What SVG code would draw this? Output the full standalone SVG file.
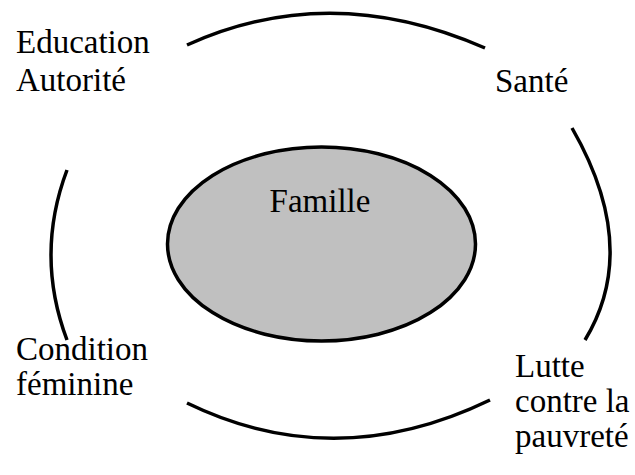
<svg xmlns="http://www.w3.org/2000/svg" width="635" height="475" viewBox="0 0 635 475">
<style>
.arc{fill:none;stroke:#000;stroke-width:3.5}
text{font-family:'Liberation Serif','DejaVu Serif','Times New Roman',serif;font-size:33px;fill:#000}
</style>
<rect width="635" height="475" fill="#fff"/>
<g id="connectors">
<path class="arc" d="M187 45 Q330 -20 485 48"/>
<path class="arc" d="M572 128 Q641 248 585 340"/>
<path class="arc" d="M67 170 Q35 255 67 340"/>
<path class="arc" d="M187 403 Q335 475 490 400"/>
</g>
<g id="famille">
<ellipse cx="321.5" cy="244" rx="154" ry="97" fill="#c0c0c0" stroke="#000" stroke-width="3.5"/>
<text x="320" y="212" text-anchor="middle">Famille</text>
</g>
<g id="education">
<text x="16" y="53">Education</text>
<text x="16" y="91">Autorité</text>
</g>
<g id="sante">
<text x="495" y="92">Santé</text>
</g>
<g id="condition">
<text x="16" y="360">Condition</text>
<text x="16" y="395">féminine</text>
</g>
<g id="lutte">
<text x="515" y="377">Lutte</text>
<text x="515" y="412">contre la</text>
<text x="515" y="447">pauvreté</text>
</g>
</svg>
